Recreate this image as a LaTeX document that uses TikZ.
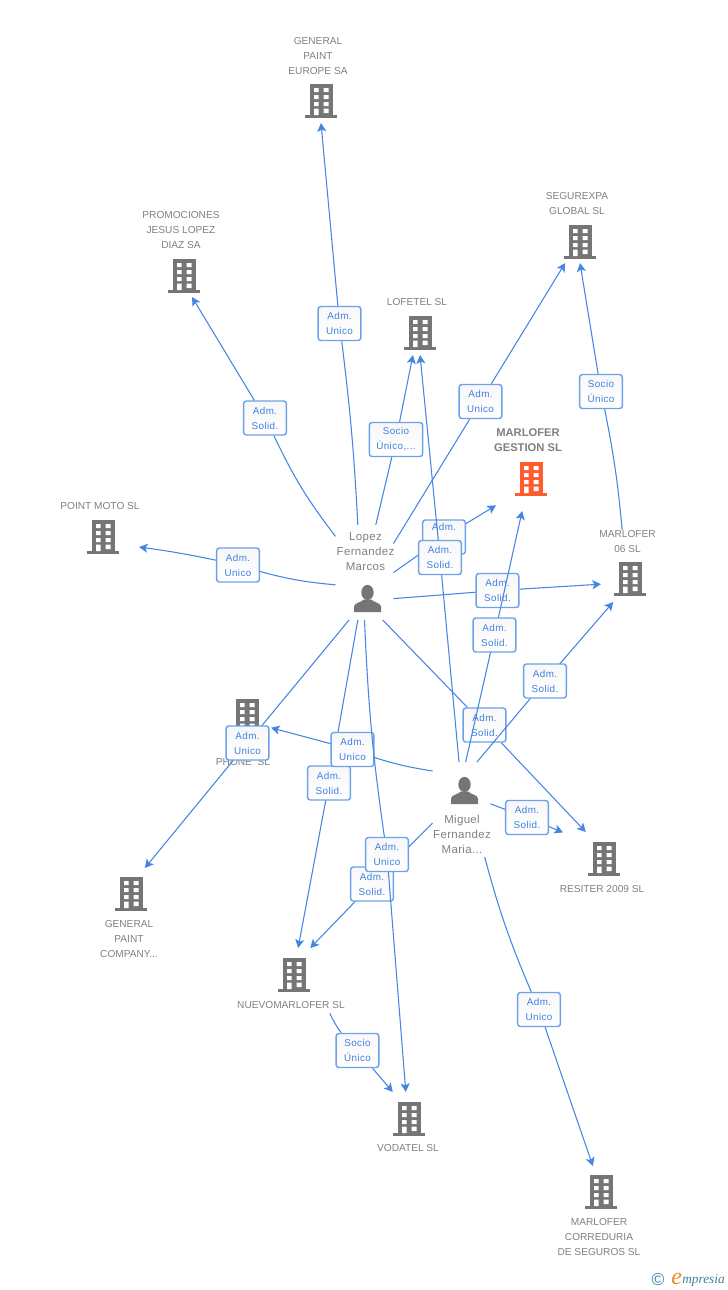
\documentclass[tikz,border=0pt]{standalone}
\usepackage{fontspec}
\setmainfont{Liberation Sans}
\newfontfamily\badgefont[LetterSpace=4]{Liberation Sans}
\newfontfamily\namefont[LetterSpace=3]{Liberation Sans}
\newfontfamily\brandfont{Liberation Serif}
\usetikzlibrary{arrows.meta}
\definecolor{linkblue}{HTML}{4585E3}
\definecolor{badgeedge}{HTML}{6DA2EA}
\definecolor{badgetext}{HTML}{3F80E0}
\definecolor{icongray}{HTML}{757575}
\definecolor{labelgray}{HTML}{808080}
\definecolor{focus}{HTML}{FF5C2E}
\definecolor{brandblue}{HTML}{3F7F9F}
\definecolor{brandorange}{HTML}{F08A1E}
\tikzset{
  link/.style={draw=linkblue,line width=0.8pt},
  linkto/.style={link,-{Stealth[length=6.5pt,width=6.8pt,inset=1.6pt]}},
  badge/.style={rectangle,rounded corners=2pt,draw=badgeedge,line width=1.1pt,top color=black!3,bottom color=white,
    minimum width=32pt,minimum height=25.5pt,inner sep=0pt,align=center,text=badgetext,
    font=\badgefont\fontsize{7.4}{11.25}\selectfont},
  wide/.style={minimum width=40pt},
  label/.style={inner sep=0pt,align=center,text=labelgray,font=\fontsize{7.6}{11.25}\selectfont},
  boldlabel/.style={label,font=\bfseries\fontsize{8.4}{11.25}\selectfont},
  person/.style={inner sep=0pt,align=center,text=labelgray,font=\namefont\fontsize{8.6}{11.25}\selectfont},
  hit/.style={rectangle,inner sep=0pt,outer sep=0pt},
}
% name, x, y, half width, half height, colour
\newcommand{\Bldg}[6]{%
  \begin{scope}[shift={(#2,#3)}]
    \fill[#6] (-11,-16) rectangle (12,16);
    \fill[#6] (-16,15) rectangle (16,18);
    \fill[white] (-7,-12) rectangle (-2.5,-8) (2.5,-12) rectangle (7.5,-8)
                 (-7,-5) rectangle (-2.5,-1) (2.5,-5) rectangle (7.5,-1)
                 (-7,2) rectangle (-2.5,6) (2.5,2) rectangle (7.5,6)
                 (-7,8.5) rectangle (-2.5,15) (2.5,8.5) rectangle (7.5,13);
    \node[hit,minimum width={#4*1.5pt},minimum height={#5*1.5pt}] (#1) at (0,0) {};
  \end{scope}}
% name, icon x, icon y, box cx, box cy
\newcommand{\Person}[5]{%
  \begin{scope}[shift={(#2,#3)}]
    \fill[icongray] (0,-6) ellipse [x radius=6.2,y radius=7.6];
    \fill[icongray] (-13.5,13.5) -- (-13.5,8) .. controls (-13,4) and (-6,4) .. (-4,1) -- (4,1)
      .. controls (6,4) and (13,4) .. (13.5,8) -- (13.5,13.5) -- cycle;
  \end{scope}
  \node[hit,minimum width=43.5pt,minimum height=71.25pt] (#1) at (#4,#5) {};}
\begin{document}
\begin{tikzpicture}[x=0.75pt,y=-0.75pt]
\useasboundingbox (0,0) rectangle (728,1290);

% entities
\Bldg{gp}{321}{100}{30}{23}{icongray}
\Bldg{promo}{184}{275}{30}{22}{icongray}
\Bldg{lofetel}{420}{332}{30}{23}{icongray}
\Bldg{segur}{580}{241}{30}{22}{icongray}
\Bldg{gestion}{531}{478}{35}{33}{focus}
\Bldg{moto}{103}{536}{36}{30}{icongray}
\Bldg{m06}{630}{578}{29}{24}{icongray}
\Bldg{phone}{247}{715}{24}{30}{icongray}
\Bldg{company}{131}{893}{30}{25}{icongray}
\Bldg{resiter}{604}{858}{41}{26}{icongray}
\Bldg{nuevo}{294}{974}{30}{26}{icongray}
\Bldg{vodatel}{409}{1118}{30}{26}{icongray}
\Bldg{corr}{601}{1191}{30}{25}{icongray}
\Person{lopez}{367.5}{598.5}{364.5}{572.5}
\Person{miguel}{464.5}{790.5}{461.5}{809.5}

% labels
\node[label] (lgp) at (318,56) {GENERAL\\PAINT\\EUROPE SA};
\node[label] (lpromo) at (181,230) {PROMOCIONES\\JESUS LOPEZ\\DIAZ SA};
\node[label] (llof) at (417,302) {LOFETEL SL};
\node[label] (lseg) at (577,203.5) {SEGUREXPA\\GLOBAL SL};
\node[boldlabel] (lges) at (528,440.5) {MARLOFER\\GESTION SL};
\node[label] (lmoto) at (100,506) {POINT MOTO SL};
\node[label] (lm06) at (627.5,541.5) {MARLOFER\\06 SL};
\node[label] (lpho) at (243,762) {PHONE\ \ SL};
\node[label] (lcom) at (129,939) {GENERAL\\PAINT\\COMPANY...};
\node[label] (lres) at (602,889) {RESITER 2009 SL};
\node[label,minimum height=12pt] (lnue) at (291,1005) {NUEVOMARLOFER SL};
\node[label] (lvod) at (408,1148) {VODATEL SL};
\node[label] (lcor) at (599,1237) {MARLOFER\\CORREDURIA\\DE SEGUROS SL};
\node[person] (nlop) at (365.5,552) {Lopez\\Fernandez\\Marcos};
\node[person] (nmig) at (462,834) {Miguel\\Fernandez\\Maria...};

% connectors with their badges, in stacking order
\node[badge] (b7) at (444,537) {Adm.\\ \strut};
\draw[link] (lopez.east) -- (b7);
\draw[linkto] (b7) -- (gestion.-142);
\node[badge] (b9) at (497.5,590.5) {Adm.\\Solid.};
\draw[link] (lopez.-42) -- (b9);
\draw[linkto] (b9) -- (m06.-168);
\node[badge] (b12) at (484.5,725) {Adm.\\Solid.};
\draw[link] (lopez.-69) -- (b12);
\draw[linkto] (b12) -- (resiter.125);

\coordinate (c8) at (440,557.5);
\draw[link] (miguel.93) -- (c8);
\draw[linkto] (c8) -- (lofetel.south);
\node[badge] (b8) at (c8) {Adm.\\Solid.};
\coordinate (c10) at (494.5,635);
\draw[link] (miguel.85) -- (c10);
\draw[linkto] (c10) -- (gestion.-105);
\node[badge] (b10) at (c10) {Adm.\\Solid.};
\coordinate (c11) at (545,681);
\draw[link] (miguel.72) -- (c11);
\draw[linkto] (c11) -- (m06.-125);
\node[badge] (b11) at (c11) {Adm.\\Solid.};

\node[badge] (b1) at (339.5,323.5) {Adm.\\Unico};
\draw[link] (lopez.98) to[bend right=2] (b1);
\draw[linkto] (b1) -- (gp.south);
\node[badge] (b2) at (265,418) {Adm.\\Solid.};
\draw[link] (lopez) to[bend left=6] (b2);
\draw[linkto] (b2) -- (promo.-70);
\node[badge,wide] (b3) at (396,439.5) {Socio\\Único,...};
\draw[link] (lopez) -- (b3);
\draw[linkto] (b3) -- (lofetel.-107);
\node[badge] (b4) at (480.5,401.5) {Adm.\\Unico};
\draw[link] (lopez.45) -- (b4);
\draw[linkto] (b4) -- (segur.-124);
\node[badge] (b5) at (601,391.5) {Socio\\Único};
\draw[link] (lm06.115) to[bend right=3] (b5);
\draw[linkto] (b5) -- (segur.south);
\node[badge] (b6) at (238,565) {Adm.\\Unico};
\draw[link] (lopez.-157) to[bend left=5] (b6);
\draw[linkto] (b6) to[bend right=2] (moto.-17);

\coordinate (c14) at (329,783);
\draw[link] (lopez.-98) -- (c14);
\draw[linkto] (c14) -- (nuevo.81);
\node[badge] (b14) at (c14) {Adm.\\Solid.};
\coordinate (c13) at (352.5,749.5);
\draw[link] (miguel.127) to[bend left=6] (c13);
\draw[linkto] (c13) -- (phone.-28);
\node[badge] (b13) at (c13) {Adm.\\Unico};
\coordinate (c18) at (247.5,743);
\draw[link] (lopez.-108) -- (c18);
\draw[linkto] (c18) -- (company.61);
\node[badge] (b18) at (c18) {Adm.\\Unico};

\coordinate (c16) at (372,884);
\draw[link] (miguel.205) -- (c16);
\draw[linkto] (c16) -- (nuevo.58);
\node[badge] (b16) at (c16) {Adm.\\Solid.};
\coordinate (c15) at (387,854.5);
\draw[link] (lopez.south) to[bend right=3] (c15);
\draw[linkto] (c15) -- (vodatel.97);
\node[badge] (b15) at (c15) {Adm.\\Unico};
\node[badge] (b17) at (527,817.5) {Adm.\\Solid.};
\draw[link] (miguel.11) -- (b17);
\draw[linkto] (b17) -- (resiter.148);
\node[badge] (b19) at (357.5,1050.5) {Socio\\Único};
\draw[link] (lnue.-12) to[bend right=6] (b19);
\draw[linkto] (b19) -- (vodatel.122);
\node[badge] (b20) at (539,1009.5) {Adm.\\Unico};
\draw[link] (miguel.-64) to[bend right=4] (b20);
\draw[linkto] (b20) -- (corr.108);

% footer
\node[inner sep=0pt,text=brandblue,font=\fontsize{13}{13}\selectfont] (copy) at (658,1279) {©};
\node[inner sep=0pt,anchor=base west,text=brandorange,font=\brandfont\itshape\fontsize{18}{18}\selectfont] (brandE) at (671,1284) {e};
\node[inner sep=0pt,anchor=base west,text=brandblue,font=\brandfont\itshape\fontsize{10}{10}\selectfont] (brandR) at (682,1283) {mpresia};
\end{tikzpicture}
\end{document}
